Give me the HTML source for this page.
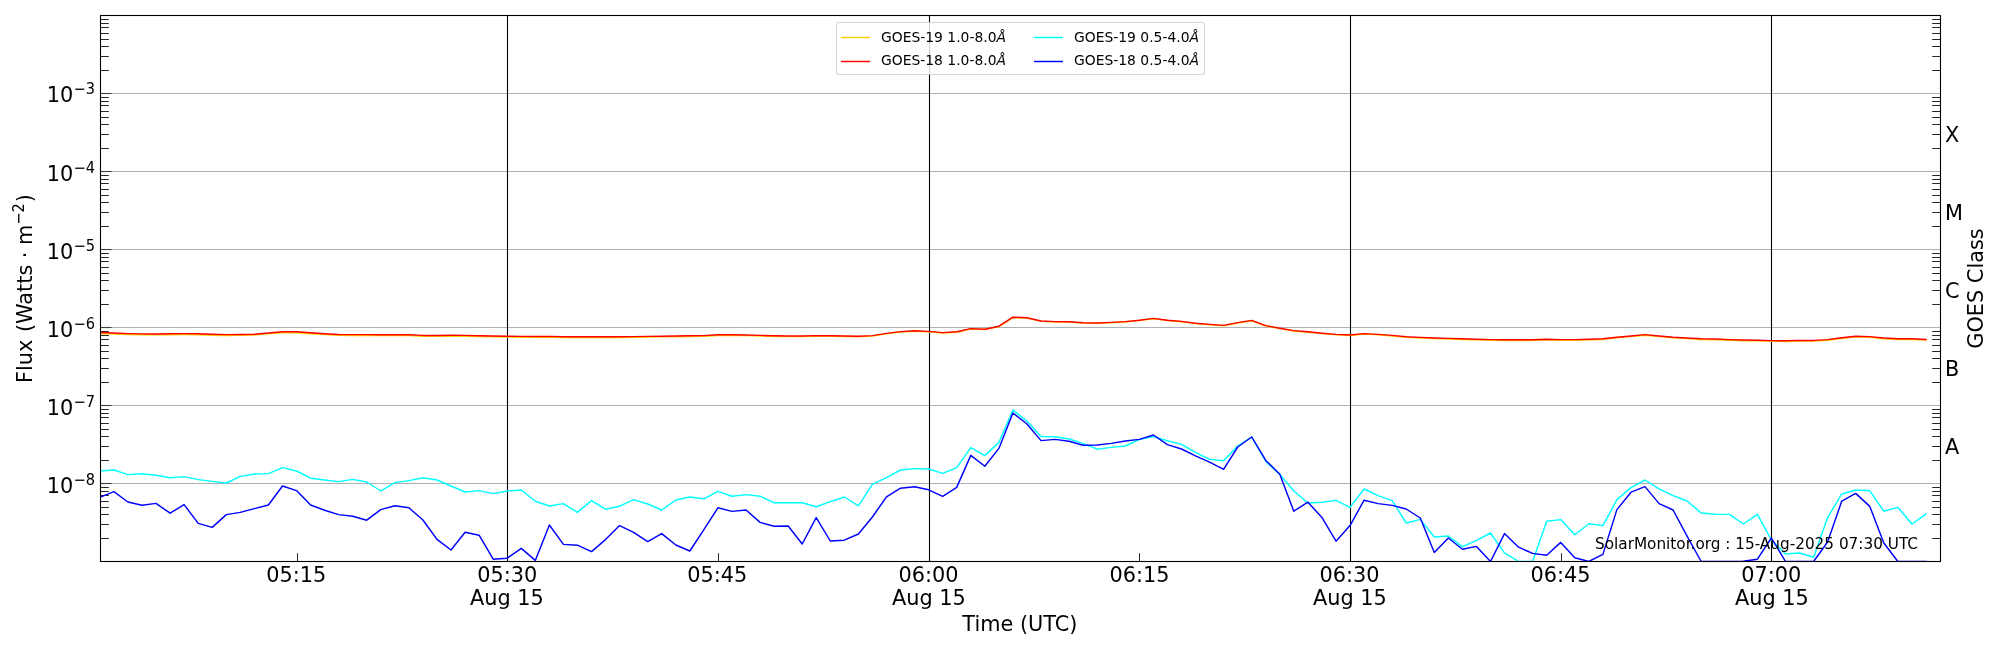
<!DOCTYPE html>
<html lang="en"><head><meta charset="utf-8"><title>GOES X-ray Flux</title>
<style>html,body{margin:0;padding:0;background:#fff;}body{width:2000px;height:650px;overflow:hidden;}svg{display:block;}text{font-family:"DejaVu Sans", "Liberation Sans", sans-serif;fill:#000;}</style></head><body>
<svg width="2000" height="650" viewBox="0 0 2000 650" style="will-change:transform">
<rect width="2000" height="650" fill="#fff"/>
<defs><clipPath id="ax"><rect x="100.50" y="15.50" width="1840.00" height="546.00"/></clipPath></defs>
<g stroke="#b0b0b0" stroke-width="1.1">
<line x1="100.5" y1="483.5" x2="1940.5" y2="483.5"/>
<line x1="100.5" y1="405.5" x2="1940.5" y2="405.5"/>
<line x1="100.5" y1="327.5" x2="1940.5" y2="327.5"/>
<line x1="100.5" y1="249.5" x2="1940.5" y2="249.5"/>
<line x1="100.5" y1="171.5" x2="1940.5" y2="171.5"/>
<line x1="100.5" y1="93.5" x2="1940.5" y2="93.5"/>
</g>
<g stroke="#404040" stroke-width="1.1">
<line x1="100.5" y1="483.5" x2="111.6" y2="483.5"/>
<line x1="100.5" y1="405.5" x2="111.6" y2="405.5"/>
<line x1="100.5" y1="327.5" x2="111.6" y2="327.5"/>
<line x1="100.5" y1="249.5" x2="111.6" y2="249.5"/>
<line x1="100.5" y1="171.5" x2="111.6" y2="171.5"/>
<line x1="100.5" y1="93.5" x2="111.6" y2="93.5"/>
</g>
<g stroke="#000" stroke-width="0.85">
<line x1="100.5" y1="538.5" x2="108.8" y2="538.5"/>
<line x1="1940.5" y1="538.5" x2="1932.2" y2="538.5"/>
<line x1="100.5" y1="524.5" x2="108.8" y2="524.5"/>
<line x1="1940.5" y1="524.5" x2="1932.2" y2="524.5"/>
<line x1="100.5" y1="514.5" x2="108.8" y2="514.5"/>
<line x1="1940.5" y1="514.5" x2="1932.2" y2="514.5"/>
<line x1="100.5" y1="507.5" x2="108.8" y2="507.5"/>
<line x1="1940.5" y1="507.5" x2="1932.2" y2="507.5"/>
<line x1="100.5" y1="501.5" x2="108.8" y2="501.5"/>
<line x1="1940.5" y1="501.5" x2="1932.2" y2="501.5"/>
<line x1="100.5" y1="495.5" x2="108.8" y2="495.5"/>
<line x1="1940.5" y1="495.5" x2="1932.2" y2="495.5"/>
<line x1="100.5" y1="491.5" x2="108.8" y2="491.5"/>
<line x1="1940.5" y1="491.5" x2="1932.2" y2="491.5"/>
<line x1="100.5" y1="487.5" x2="108.8" y2="487.5"/>
<line x1="1940.5" y1="487.5" x2="1932.2" y2="487.5"/>
<line x1="100.5" y1="460.5" x2="108.8" y2="460.5"/>
<line x1="1940.5" y1="460.5" x2="1932.2" y2="460.5"/>
<line x1="100.5" y1="446.5" x2="108.8" y2="446.5"/>
<line x1="1940.5" y1="446.5" x2="1932.2" y2="446.5"/>
<line x1="100.5" y1="436.5" x2="108.8" y2="436.5"/>
<line x1="1940.5" y1="436.5" x2="1932.2" y2="436.5"/>
<line x1="100.5" y1="429.5" x2="108.8" y2="429.5"/>
<line x1="1940.5" y1="429.5" x2="1932.2" y2="429.5"/>
<line x1="100.5" y1="423.5" x2="108.8" y2="423.5"/>
<line x1="1940.5" y1="423.5" x2="1932.2" y2="423.5"/>
<line x1="100.5" y1="417.5" x2="108.8" y2="417.5"/>
<line x1="1940.5" y1="417.5" x2="1932.2" y2="417.5"/>
<line x1="100.5" y1="413.5" x2="108.8" y2="413.5"/>
<line x1="1940.5" y1="413.5" x2="1932.2" y2="413.5"/>
<line x1="100.5" y1="409.5" x2="108.8" y2="409.5"/>
<line x1="1940.5" y1="409.5" x2="1932.2" y2="409.5"/>
<line x1="100.5" y1="382.5" x2="108.8" y2="382.5"/>
<line x1="1940.5" y1="382.5" x2="1932.2" y2="382.5"/>
<line x1="100.5" y1="368.5" x2="108.8" y2="368.5"/>
<line x1="1940.5" y1="368.5" x2="1932.2" y2="368.5"/>
<line x1="100.5" y1="358.5" x2="108.8" y2="358.5"/>
<line x1="1940.5" y1="358.5" x2="1932.2" y2="358.5"/>
<line x1="100.5" y1="351.5" x2="108.8" y2="351.5"/>
<line x1="1940.5" y1="351.5" x2="1932.2" y2="351.5"/>
<line x1="100.5" y1="345.5" x2="108.8" y2="345.5"/>
<line x1="1940.5" y1="345.5" x2="1932.2" y2="345.5"/>
<line x1="100.5" y1="339.5" x2="108.8" y2="339.5"/>
<line x1="1940.5" y1="339.5" x2="1932.2" y2="339.5"/>
<line x1="100.5" y1="335.5" x2="108.8" y2="335.5"/>
<line x1="1940.5" y1="335.5" x2="1932.2" y2="335.5"/>
<line x1="100.5" y1="331.5" x2="108.8" y2="331.5"/>
<line x1="1940.5" y1="331.5" x2="1932.2" y2="331.5"/>
<line x1="100.5" y1="304.5" x2="108.8" y2="304.5"/>
<line x1="1940.5" y1="304.5" x2="1932.2" y2="304.5"/>
<line x1="100.5" y1="290.5" x2="108.8" y2="290.5"/>
<line x1="1940.5" y1="290.5" x2="1932.2" y2="290.5"/>
<line x1="100.5" y1="280.5" x2="108.8" y2="280.5"/>
<line x1="1940.5" y1="280.5" x2="1932.2" y2="280.5"/>
<line x1="100.5" y1="273.5" x2="108.8" y2="273.5"/>
<line x1="1940.5" y1="273.5" x2="1932.2" y2="273.5"/>
<line x1="100.5" y1="267.5" x2="108.8" y2="267.5"/>
<line x1="1940.5" y1="267.5" x2="1932.2" y2="267.5"/>
<line x1="100.5" y1="261.5" x2="108.8" y2="261.5"/>
<line x1="1940.5" y1="261.5" x2="1932.2" y2="261.5"/>
<line x1="100.5" y1="257.5" x2="108.8" y2="257.5"/>
<line x1="1940.5" y1="257.5" x2="1932.2" y2="257.5"/>
<line x1="100.5" y1="253.5" x2="108.8" y2="253.5"/>
<line x1="1940.5" y1="253.5" x2="1932.2" y2="253.5"/>
<line x1="100.5" y1="226.5" x2="108.8" y2="226.5"/>
<line x1="1940.5" y1="226.5" x2="1932.2" y2="226.5"/>
<line x1="100.5" y1="212.5" x2="108.8" y2="212.5"/>
<line x1="1940.5" y1="212.5" x2="1932.2" y2="212.5"/>
<line x1="100.5" y1="202.5" x2="108.8" y2="202.5"/>
<line x1="1940.5" y1="202.5" x2="1932.2" y2="202.5"/>
<line x1="100.5" y1="195.5" x2="108.8" y2="195.5"/>
<line x1="1940.5" y1="195.5" x2="1932.2" y2="195.5"/>
<line x1="100.5" y1="189.5" x2="108.8" y2="189.5"/>
<line x1="1940.5" y1="189.5" x2="1932.2" y2="189.5"/>
<line x1="100.5" y1="183.5" x2="108.8" y2="183.5"/>
<line x1="1940.5" y1="183.5" x2="1932.2" y2="183.5"/>
<line x1="100.5" y1="179.5" x2="108.8" y2="179.5"/>
<line x1="1940.5" y1="179.5" x2="1932.2" y2="179.5"/>
<line x1="100.5" y1="175.5" x2="108.8" y2="175.5"/>
<line x1="1940.5" y1="175.5" x2="1932.2" y2="175.5"/>
<line x1="100.5" y1="148.5" x2="108.8" y2="148.5"/>
<line x1="1940.5" y1="148.5" x2="1932.2" y2="148.5"/>
<line x1="100.5" y1="134.5" x2="108.8" y2="134.5"/>
<line x1="1940.5" y1="134.5" x2="1932.2" y2="134.5"/>
<line x1="100.5" y1="124.5" x2="108.8" y2="124.5"/>
<line x1="1940.5" y1="124.5" x2="1932.2" y2="124.5"/>
<line x1="100.5" y1="117.5" x2="108.8" y2="117.5"/>
<line x1="1940.5" y1="117.5" x2="1932.2" y2="117.5"/>
<line x1="100.5" y1="111.5" x2="108.8" y2="111.5"/>
<line x1="1940.5" y1="111.5" x2="1932.2" y2="111.5"/>
<line x1="100.5" y1="105.5" x2="108.8" y2="105.5"/>
<line x1="1940.5" y1="105.5" x2="1932.2" y2="105.5"/>
<line x1="100.5" y1="101.5" x2="108.8" y2="101.5"/>
<line x1="1940.5" y1="101.5" x2="1932.2" y2="101.5"/>
<line x1="100.5" y1="97.5" x2="108.8" y2="97.5"/>
<line x1="1940.5" y1="97.5" x2="1932.2" y2="97.5"/>
<line x1="100.5" y1="70.5" x2="108.8" y2="70.5"/>
<line x1="1940.5" y1="70.5" x2="1932.2" y2="70.5"/>
<line x1="100.5" y1="56.5" x2="108.8" y2="56.5"/>
<line x1="1940.5" y1="56.5" x2="1932.2" y2="56.5"/>
<line x1="100.5" y1="46.5" x2="108.8" y2="46.5"/>
<line x1="1940.5" y1="46.5" x2="1932.2" y2="46.5"/>
<line x1="100.5" y1="39.5" x2="108.8" y2="39.5"/>
<line x1="1940.5" y1="39.5" x2="1932.2" y2="39.5"/>
<line x1="100.5" y1="33.5" x2="108.8" y2="33.5"/>
<line x1="1940.5" y1="33.5" x2="1932.2" y2="33.5"/>
<line x1="100.5" y1="27.5" x2="108.8" y2="27.5"/>
<line x1="1940.5" y1="27.5" x2="1932.2" y2="27.5"/>
<line x1="100.5" y1="23.5" x2="108.8" y2="23.5"/>
<line x1="1940.5" y1="23.5" x2="1932.2" y2="23.5"/>
<line x1="100.5" y1="19.5" x2="108.8" y2="19.5"/>
<line x1="1940.5" y1="19.5" x2="1932.2" y2="19.5"/>
<line x1="297.5" y1="561.5" x2="297.5" y2="553.2"/>
<line x1="718.5" y1="561.5" x2="718.5" y2="553.2"/>
<line x1="1139.5" y1="561.5" x2="1139.5" y2="553.2"/>
<line x1="1561.5" y1="561.5" x2="1561.5" y2="553.2"/>
</g>
<g stroke="#000" stroke-width="1.1">
<line x1="507.5" y1="15.5" x2="507.5" y2="561.5"/>
<line x1="929.5" y1="15.5" x2="929.5" y2="561.5"/>
<line x1="1350.5" y1="15.5" x2="1350.5" y2="561.5"/>
<line x1="1771.5" y1="15.5" x2="1771.5" y2="561.5"/>
</g>
<g clip-path="url(#ax)" fill="none" stroke-width="1.45" stroke-linejoin="round" stroke-linecap="square">
<polyline stroke="#00ffff" points="99.8,471.0 113.9,470.0 127.9,474.6 142.0,473.8 156.0,475.2 170.1,477.8 184.1,476.6 198.2,479.6 212.2,481.4 226.3,483.0 240.3,476.4 254.4,474.0 268.4,473.6 282.5,467.6 296.5,471.0 310.6,478.2 324.6,480.0 338.6,481.6 352.7,479.4 366.7,482.0 380.8,491.0 394.8,482.6 408.9,480.6 422.9,477.8 437.0,480.0 451.0,486.0 465.1,492.0 479.1,490.6 493.2,493.6 507.2,491.0 521.3,490.0 535.3,501.2 549.4,506.0 563.4,503.6 577.4,512.4 591.5,500.6 605.5,509.2 619.6,506.2 633.6,499.6 647.7,504.0 661.7,510.0 675.8,500.0 689.8,497.0 703.9,498.8 717.9,491.4 732.0,496.2 746.0,494.6 760.1,496.2 774.1,502.8 788.2,502.6 802.2,502.8 816.2,506.8 830.3,501.6 844.3,497.0 858.4,505.8 872.4,484.4 886.5,477.6 900.5,470.0 914.6,468.6 928.6,469.0 942.7,473.4 956.7,467.6 970.8,447.6 984.8,455.6 998.9,442.4 1012.9,410.0 1027.0,421.2 1041.0,436.6 1055.0,436.8 1069.1,439.0 1083.1,443.4 1097.2,449.2 1111.2,447.4 1125.3,446.0 1139.3,439.6 1153.4,436.6 1167.4,440.8 1181.5,444.4 1195.5,452.4 1209.6,459.4 1223.6,460.8 1237.7,446.0 1251.7,437.0 1265.8,461.4 1279.8,474.4 1293.8,491.0 1307.9,503.0 1321.9,502.2 1336.0,500.4 1350.0,507.4 1364.1,489.0 1378.1,495.6 1392.2,500.6 1406.2,523.0 1420.3,519.4 1434.3,537.0 1448.4,536.0 1462.4,546.6 1476.5,540.4 1490.5,533.0 1504.5,552.8 1518.6,561.5 1532.6,561.5 1546.7,521.2 1560.7,519.6 1574.8,534.8 1588.8,523.8 1602.9,525.6 1616.9,499.6 1631.0,487.6 1645.0,480.0 1659.1,488.8 1673.1,495.6 1687.2,501.0 1701.2,513.0 1715.3,514.2 1729.3,514.4 1743.3,524.0 1757.4,514.4 1771.4,540.0 1785.5,554.0 1799.5,553.0 1813.6,557.2 1827.6,517.6 1841.7,494.0 1855.7,490.0 1869.8,490.8 1883.8,511.2 1897.9,507.4 1911.9,524.0 1926.0,514.0"/>
<polyline stroke="#0000ff" points="99.8,497.3 113.9,491.6 127.9,502.0 142.0,505.2 156.0,503.4 170.1,513.2 184.1,504.6 198.2,523.4 212.2,527.4 226.3,514.6 240.3,512.4 254.4,508.6 268.4,505.0 282.5,486.0 296.5,490.6 310.6,505.0 324.6,510.2 338.6,514.6 352.7,516.2 366.7,520.2 380.8,509.6 394.8,505.8 408.9,507.8 422.9,520.0 437.0,539.4 451.0,550.0 465.1,532.2 479.1,535.2 493.2,559.2 507.2,558.2 521.3,548.4 535.3,560.4 549.4,525.0 563.4,544.4 577.4,545.2 591.5,551.6 605.5,539.6 619.6,525.6 633.6,532.4 647.7,541.6 661.7,533.6 675.8,545.0 689.8,551.0 703.9,529.6 717.9,507.8 732.0,511.4 746.0,510.0 760.1,522.4 774.1,526.2 788.2,526.0 802.2,544.0 816.2,517.6 830.3,541.0 844.3,540.2 858.4,534.0 872.4,517.0 886.5,496.8 900.5,488.2 914.6,486.8 928.6,489.8 942.7,496.4 956.7,487.4 970.8,455.4 984.8,466.2 998.9,448.4 1012.9,413.0 1027.0,424.0 1041.0,440.6 1055.0,439.4 1069.1,441.2 1083.1,445.2 1097.2,445.0 1111.2,443.4 1125.3,441.0 1139.3,439.4 1153.4,435.0 1167.4,444.6 1181.5,449.0 1195.5,455.8 1209.6,462.2 1223.6,469.4 1237.7,447.0 1251.7,437.0 1265.8,460.4 1279.8,474.2 1293.8,511.2 1307.9,502.2 1321.9,517.4 1336.0,541.2 1350.0,525.6 1364.1,500.2 1378.1,503.6 1392.2,505.4 1406.2,509.0 1420.3,518.0 1434.3,552.4 1448.4,538.0 1462.4,549.2 1476.5,546.4 1490.5,561.5 1504.5,533.6 1518.6,547.2 1532.6,553.4 1546.7,555.2 1560.7,542.4 1574.8,557.8 1588.8,561.5 1602.9,554.4 1616.9,509.6 1631.0,492.2 1645.0,486.6 1659.1,503.6 1673.1,510.0 1687.2,536.4 1701.2,561.5 1715.3,561.5 1729.3,561.5 1743.3,561.2 1757.4,559.2 1771.4,538.0 1785.5,561.5 1799.5,561.5 1813.6,561.5 1827.6,542.0 1841.7,501.2 1855.7,493.4 1869.8,506.4 1883.8,543.0 1897.9,561.5 1911.9,561.5 1926.0,561.5"/>
</g>
<g clip-path="url(#ax)" fill="none" stroke-width="1.45" stroke-linejoin="round" stroke-linecap="square">
<polyline stroke="#ffcc00" points="99.8,333.50 113.9,333.94 127.9,334.54 142.0,334.83 156.0,334.82 170.1,334.67 184.1,334.51 198.2,334.66 212.2,335.25 226.3,335.54 240.3,335.39 254.4,335.08 268.4,333.88 282.5,332.67 296.5,332.66 310.6,333.71 324.6,334.60 338.6,335.35 352.7,335.49 366.7,335.48 380.8,335.63 394.8,335.47 408.9,335.62 422.9,336.21 437.0,336.21 451.0,336.00 465.1,336.19 479.1,336.58 493.2,336.78 507.2,336.97 521.3,337.16 535.3,337.15 549.4,337.14 563.4,337.54 577.4,337.53 591.5,337.52 605.5,337.51 619.6,337.50 633.6,337.30 647.7,337.09 661.7,336.88 675.8,336.67 689.8,336.46 703.9,336.26 717.9,335.45 732.0,335.44 746.0,335.63 760.1,336.02 774.1,336.42 788.2,336.61 802.2,336.60 816.2,336.18 830.3,336.36 844.3,336.54 858.4,336.72 872.4,336.10 886.5,333.88 900.5,332.05 914.6,331.23 928.6,331.81 942.7,332.99 956.7,332.17 970.8,328.95 984.8,329.55 998.9,326.55 1012.9,317.55 1027.0,318.15 1041.0,321.35 1055.0,321.95 1069.1,322.15 1083.1,323.15 1097.2,323.35 1111.2,322.75 1125.3,321.95 1139.3,320.55 1153.4,318.75 1167.4,320.55 1181.5,321.75 1195.5,323.55 1209.6,324.75 1223.6,325.75 1237.7,322.95 1251.7,320.75 1265.8,325.95 1279.8,328.55 1293.8,330.95 1307.9,332.18 1321.9,333.60 1336.0,334.82 1350.0,335.45 1364.1,334.08 1378.1,334.90 1392.2,335.92 1406.2,337.35 1420.3,337.97 1434.3,338.60 1448.4,339.00 1462.4,339.41 1476.5,339.81 1490.5,340.21 1504.5,340.41 1518.6,340.42 1532.6,340.42 1546.7,339.82 1560.7,340.23 1574.8,340.23 1588.8,339.83 1602.9,339.43 1616.9,337.84 1631.0,336.64 1645.0,335.24 1659.1,336.65 1673.1,337.85 1687.2,338.65 1701.2,339.45 1715.3,339.66 1729.3,340.26 1743.3,340.66 1757.4,340.87 1771.4,341.27 1785.5,341.47 1799.5,341.07 1813.6,341.08 1827.6,340.28 1841.7,338.48 1855.7,336.89 1869.8,337.29 1883.8,338.69 1897.9,339.49 1911.9,339.50 1926.0,340.10"/>
<polyline stroke="#ff0000" points="99.8,332.5 113.9,333.0 127.9,333.6 142.0,333.9 156.0,333.9 170.1,333.7 184.1,333.6 198.2,333.7 212.2,334.3 226.3,334.6 240.3,334.5 254.4,334.2 268.4,333.0 282.5,331.8 296.5,331.8 310.6,332.8 324.6,333.7 338.6,334.5 352.7,334.6 366.7,334.6 380.8,334.8 394.8,334.6 408.9,334.8 422.9,335.4 437.0,335.4 451.0,335.2 465.1,335.4 479.1,335.8 493.2,336.0 507.2,336.2 521.3,336.4 535.3,336.4 549.4,336.4 563.4,336.8 577.4,336.8 591.5,336.8 605.5,336.8 619.6,336.8 633.6,336.6 647.7,336.4 661.7,336.2 675.8,336.0 689.8,335.8 703.9,335.6 717.9,334.8 732.0,334.8 746.0,335.0 760.1,335.4 774.1,335.8 788.2,336.0 802.2,336.0 816.2,335.6 830.3,335.8 844.3,336.0 858.4,336.2 872.4,335.6 886.5,333.4 900.5,331.6 914.6,330.8 928.6,331.4 942.7,332.6 956.7,331.8 970.8,328.6 984.8,329.2 998.9,326.2 1012.9,317.2 1027.0,317.8 1041.0,321.0 1055.0,321.6 1069.1,321.8 1083.1,322.8 1097.2,323.0 1111.2,322.4 1125.3,321.6 1139.3,320.2 1153.4,318.4 1167.4,320.2 1181.5,321.4 1195.5,323.2 1209.6,324.4 1223.6,325.4 1237.7,322.6 1251.7,320.4 1265.8,325.6 1279.8,328.2 1293.8,330.6 1307.9,331.8 1321.9,333.2 1336.0,334.4 1350.0,335.0 1364.1,333.6 1378.1,334.4 1392.2,335.4 1406.2,336.8 1420.3,337.4 1434.3,338.0 1448.4,338.4 1462.4,338.8 1476.5,339.2 1490.5,339.6 1504.5,339.8 1518.6,339.8 1532.6,339.8 1546.7,339.2 1560.7,339.6 1574.8,339.6 1588.8,339.2 1602.9,338.8 1616.9,337.2 1631.0,336.0 1645.0,334.6 1659.1,336.0 1673.1,337.2 1687.2,338.0 1701.2,338.8 1715.3,339.0 1729.3,339.6 1743.3,340.0 1757.4,340.2 1771.4,340.6 1785.5,340.8 1799.5,340.4 1813.6,340.4 1827.6,339.6 1841.7,337.8 1855.7,336.2 1869.8,336.6 1883.8,338.0 1897.9,338.8 1911.9,338.8 1926.0,339.4"/>
</g>
<rect x="100.5" y="15.5" width="1840.0" height="546.0" fill="none" stroke="#000" stroke-width="1.1"/>
<g font-size="20.83" text-anchor="end">
<text x="73.3" y="492.7">10</text>
<text font-size="14.58" transform="translate(95.0,484.8) scale(1,1.09)">−8</text>
<text x="73.3" y="414.7">10</text>
<text font-size="14.58" transform="translate(95.0,406.8) scale(1,1.09)">−7</text>
<text x="73.3" y="336.7">10</text>
<text font-size="14.58" transform="translate(95.0,328.8) scale(1,1.09)">−6</text>
<text x="73.3" y="258.7">10</text>
<text font-size="14.58" transform="translate(95.0,250.8) scale(1,1.09)">−5</text>
<text x="73.3" y="180.7">10</text>
<text font-size="14.58" transform="translate(95.0,172.8) scale(1,1.09)">−4</text>
<text x="73.3" y="101.8">10</text>
<text font-size="14.58" transform="translate(95.0,93.9) scale(1,1.09)">−3</text>
</g>
<g font-size="20.83" text-anchor="middle">
<text x="296.20" y="581.5">05:15</text>
<text x="717.20" y="581.5">05:45</text>
<text x="1139.40" y="581.5">06:15</text>
<text x="1560.40" y="581.5">06:45</text>
<text x="507.25" y="581.5">05:30</text>
<text x="506.90" y="605">Aug 15</text>
<text x="928.60" y="581.5">06:00</text>
<text x="928.90" y="605">Aug 15</text>
<text x="1349.40" y="581.5">06:30</text>
<text x="1349.90" y="605">Aug 15</text>
<text x="1771.25" y="581.5">07:00</text>
<text x="1771.90" y="605">Aug 15</text>
<text x="1019.9" y="630.5">Time (UTC)</text>
</g>
<g transform="translate(31.5,288.5) rotate(-90)" font-size="20.83">
<text x="-94.5" y="0">Flux<tspan dx="1"> (Watts · m</tspan></text>
<text font-size="14.58" transform="translate(63.9,-7.9) scale(1,1.13)">−2</text>
<text x="86.3" y="0">)</text>
</g>
<text font-size="20.83" text-anchor="middle" transform="translate(1983,288.5) rotate(-90)">GOES Class</text>
<g font-size="20.83">
<text x="1944.9" y="453.5">A</text>
<text x="1944.9" y="375.5">B</text>
<text x="1944.9" y="297.5">C</text>
<text x="1944.9" y="219.5">M</text>
<text x="1944.9" y="141.5">X</text>
</g>
<text font-size="15.28" text-anchor="end" x="1918.0" y="549.3">SolarMonitor.org : 15-Aug-2025 07:30 UTC</text>
<rect x="836.5" y="22.5" width="368" height="52" rx="2.8" ry="2.8" fill="#fff" fill-opacity="0.8" stroke="#ccc" stroke-opacity="0.8" stroke-width="1.1"/>
<g stroke-width="1.45" fill="none">
<line x1="841" y1="37.5" x2="870" y2="37.5" stroke="#ffcc00"/>
<line x1="841" y1="61.5" x2="870" y2="61.5" stroke="#ff0000"/>
<line x1="1034" y1="37.5" x2="1063" y2="37.5" stroke="#00ffff"/>
<line x1="1034" y1="61.5" x2="1063" y2="61.5" stroke="#0000ff"/>
</g>
<g font-size="13.89">
<text x="881" y="42">GOES-19 1.0-8.0<tspan font-style="italic">Å</tspan></text>
<text x="881" y="64.8">GOES-18 1.0-8.0<tspan font-style="italic">Å</tspan></text>
<text x="1074" y="42">GOES-19 0.5-4.0<tspan font-style="italic">Å</tspan></text>
<text x="1074" y="64.8">GOES-18 0.5-4.0<tspan font-style="italic">Å</tspan></text>
</g>
</svg></body></html>
